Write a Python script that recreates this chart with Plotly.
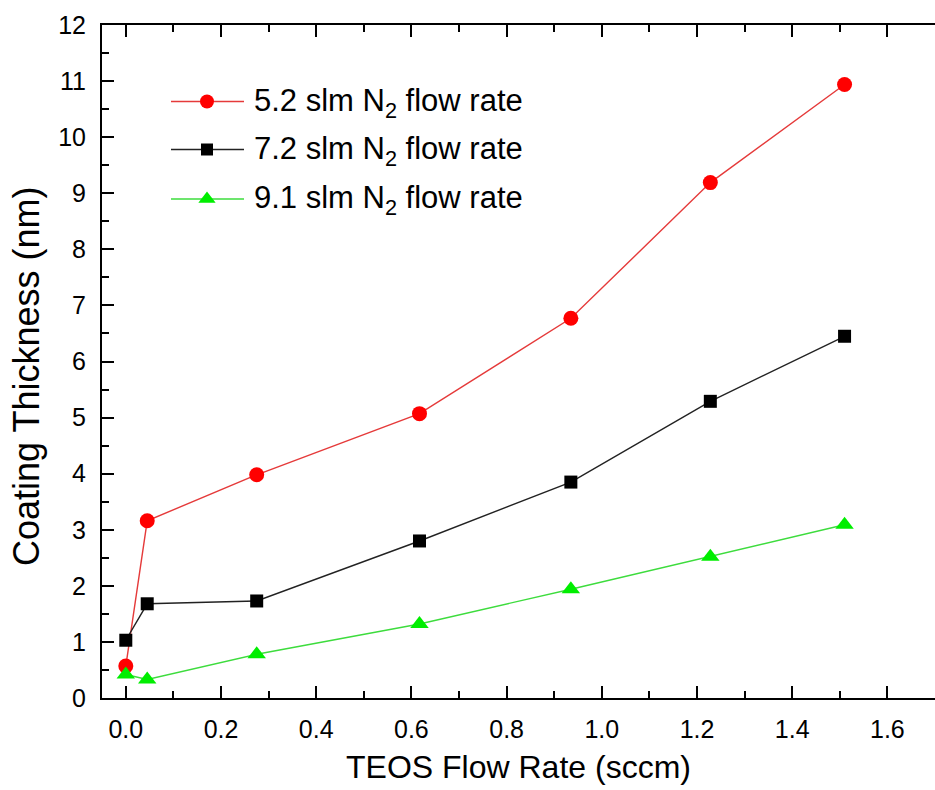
import plotly.graph_objects as go

teos = [0.0, 0.045, 0.275, 0.617, 0.935, 1.228, 1.510]
thick_52 = [0.57, 3.16, 3.98, 5.07, 6.77, 9.19, 10.94]
thick_72 = [1.03, 1.68, 1.73, 2.80, 3.85, 5.29, 6.45]
thick_91 = [0.42, 0.33, 0.78, 1.32, 1.94, 2.52, 3.09]

names = ["5.2 slm N<sub>2</sub> flow rate",
         "7.2 slm N<sub>2</sub> flow rate",
         "9.1 slm N<sub>2</sub> flow rate"]
x_ticks = [0.0, 0.2, 0.4, 0.6, 0.8, 1.0, 1.2, 1.4, 1.6]
y_ticks = list(range(0, 13))
x_title = "TEOS Flow Rate (sccm)"
y_title = "Coating Thickness (nm)"

FONT = "Liberation Sans, Arial, sans-serif"

W, H = 935, 790
ML, MR, MT, MB = 102, 0, 25, 92
PW, PH = W - ML - MR, H - MT - MB


def fx(px):
    return (px - ML) / PW


def fy(py):
    return (MT + PH - py) / PH


fig = go.Figure()
series = [
    (thick_52, names[0], "#e53a3a", "#ff0000", "circle", 15),
    (thick_72, names[1], "#222222", "#000000", "square", 13),
    (thick_91, names[2], "#3ddc3d", "#00ee00", "triangle-up", 16),
]
for i, (ys, nm, lc, mc, sym, sz) in enumerate(series):
    fig.add_trace(go.Scatter(
        x=teos, y=ys, name=nm, mode="lines+markers", showlegend=False,
        line=dict(color=lc, width=1.4),
        marker=dict(color=mc, symbol=sym, size=sz, line=dict(width=0)),
    ))

# custom legend (longer sample lines than Plotly's built-in legend)
leg_rows = [101.5, 149.5, 199.0]
for (ys, nm, lc, mc, sym, sz), ry in zip(series, leg_rows):
    fig.add_trace(go.Scatter(
        x=[fx(171), fx(244)], y=[fy(ry)] * 2,
        xaxis="x2", yaxis="y2", mode="lines", showlegend=False,
        hoverinfo="skip", line=dict(color=lc, width=1.4),
    ))
    fig.add_trace(go.Scatter(
        x=[fx(207)], y=[fy(ry)],
        xaxis="x2", yaxis="y2", mode="markers", showlegend=False,
        hoverinfo="skip",
        marker=dict(color=mc, symbol=sym, size=sz - 1, line=dict(width=0), opacity=1),
    ))
    fig.add_annotation(
        x=fx(252), y=fy(ry + 1), xref="paper", yref="paper",
        xanchor="left", yanchor="middle", showarrow=False,
        text=nm, font=dict(family=FONT, size=31, color="black"),
    )

fig.add_annotation(
    x=fx(27), y=fy(377), xref="paper", yref="paper",
    xanchor="center", yanchor="middle", showarrow=False, textangle=-90,
    text=y_title, font=dict(family=FONT, size=36, color="black"),
)

tick_common = dict(ticks="inside", ticklen=12, tickwidth=2, tickcolor="black",
                   showgrid=False, zeroline=False)

fig.update_layout(
    xaxis=dict(
        range=[-0.05, 1.7], tickvals=x_ticks, tickformat=".1f",
        showline=True, linewidth=2, linecolor="black", mirror="allticks",
        minor=dict(dtick=0.1, tick0=0, ticks="inside", ticklen=7, tickwidth=2, tickcolor="black"),
        title=dict(text=x_title, font=dict(family=FONT, size=32, color="black"), standoff=14),
        tickfont=dict(family=FONT, size=25, color="black"),
        ticklabelstandoff=8,
        **tick_common,
    ),
    yaxis=dict(
        range=[0, 12], tickvals=y_ticks,
        showline=True, linewidth=2, linecolor="black", mirror=False,
        minor=dict(dtick=0.5, tick0=0, ticks="inside", ticklen=7, tickwidth=2, tickcolor="black"),
        tickfont=dict(family=FONT, size=25, color="black"),
        ticklabelstandoff=9,
        **tick_common,
    ),
    yaxis3=dict(
        range=[0, 12], tickvals=y_ticks, overlaying="y", side="right", anchor="x",
        showline=False, showticklabels=False,
        minor=dict(dtick=0.5, tick0=0, ticks="inside", ticklen=7, tickwidth=2, tickcolor="black"),
        **tick_common,
    ),
    xaxis2=dict(range=[0, 1], overlaying="x", visible=False, anchor="y2"),
    yaxis2=dict(range=[0, 1], overlaying="y", visible=False, anchor="x2"),
    width=W, height=H,
    margin=dict(l=ML, r=MR, t=MT, b=MB),
    paper_bgcolor="white", plot_bgcolor="white",
    showlegend=False,
)

fig.write_html("out.html")
